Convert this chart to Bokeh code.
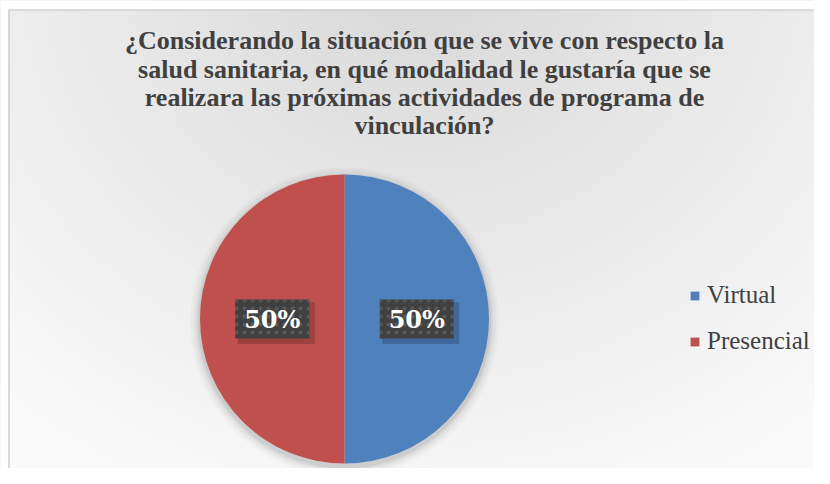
import numpy as np
from bokeh.plotting import figure
from bokeh.models import Range1d, ColumnDataSource, Legend, LegendItem
from bokeh.core.properties import value
from bokeh.embed import file_html
from bokeh.resources import INLINE

# ---- data ----
categories = ["Virtual", "Presencial"]
values = [50, 50]
colors = ["#4F81BD", "#C0504D"]
title_lines = [
    "¿Considerando la situación que se vive con respecto la",
    "salud sanitaria, en qué modalidad le gustaría que se",
    "realizara las próximas actividades de programa de",
    "vinculación?",
]

W, H = 814, 468
p = figure(width=W, height=H, output_backend="svg", toolbar_location=None,
           x_range=Range1d(0, W), y_range=Range1d(0, H), min_border=0)
p.axis.visible = False
p.grid.visible = False
p.outline_line_color = None
p.background_fill_color = "#e6e6e6"
p.border_fill_color = "#e6e6e6"

# background radial gradient
gy, gx = np.mgrid[0:H, 0:W]
d = np.sqrt(((gx - 420) / 620.0) ** 2 + ((gy - (H + 30)) / 560.0) ** 2)
d = np.clip(d, 0, 1)
lum = (0xd8 + (0xfa - 0xd8) * d).astype(np.uint32)
img = np.empty((H, W), dtype=np.uint32)
view = img.view(dtype=np.uint8).reshape((H, W, 4))
view[:, :, 0] = lum
view[:, :, 1] = lum
view[:, :, 2] = lum
view[:, :, 3] = 255
p.image_rgba(image=[img], x=0, y=0, dw=W, dh=H)

# white page margin and chart border (left / top)
p.quad(left=[0, 0], right=[8, W], bottom=[0, H - 9], top=[H, H],
       fill_color="white", line_color=None)
p.line(x=[8.5, 8.5, W], y=[0, H - 9.5, H - 9.5], line_color="#c4c4c4", line_width=1.2)

# pie geometry
cx, cy, R = 344, H - 318.5, 144.5
total = float(sum(values))
cum = np.cumsum([0] + values) / total
starts = [np.pi / 2 - 2 * np.pi * cum[i + 1] for i in range(len(values))]
ends = [np.pi / 2 - 2 * np.pi * cum[i] for i in range(len(values))]
mids = [(s + e) / 2 for s, e in zip(starts, ends)]

# soft shadow
for k, a in [(10, 0.025), (7, 0.035), (4, 0.05), (2, 0.06)]:
    p.circle(x=[cx], y=[cy - 3], radius=R + k, fill_color="#000000",
             fill_alpha=a, line_color=None)

src = ColumnDataSource(dict(start=starts, end=ends, color=colors, cat=categories))
wedges = p.wedge(x=cx, y=cy, radius=R, start_angle="start", end_angle="end",
                 fill_color="color", line_color=None, source=src)

# data labels
lx = [cx + 0.5 * R * np.cos(m) for m in mids]
ly = [cy + 0.5 * R * np.sin(m) for m in mids]
labels = ["%d%%" % round(v / total * 100) for v in values]
lsrc = ColumnDataSource(dict(x=lx, y=ly, t=labels,
                             sx=[x + 4 for x in lx], sy=[y - 4 for y in ly]))
p.rect(x="sx", y="sy", width=77, height=42, fill_color="#000000",
       fill_alpha=0.18, line_color=None, source=lsrc)
p.rect(x="x", y="y", width=74, height=39, fill_color="#404040",
       line_color=None, hatch_pattern="dot", hatch_color="#585858",
       hatch_scale=8, hatch_weight=3, source=lsrc)
p.text(x="x", y="y", text="t", text_color="white", text_font=value("DejaVu Serif"),
       text_font_style="bold", text_font_size="24px", text_align="center",
       text_baseline="middle", source=lsrc)

# title
tsrc = ColumnDataSource(dict(x=[424] * 4, y=[H - 40, H - 69, H - 97, H - 125], t=title_lines))
p.text(x="x", y="y", text="t", text_color="#404040", text_font=value("Liberation Serif"),
       text_font_style="bold", text_font_size="26px", text_align="center",
       text_baseline="middle", source=tsrc)

# legend
legend = Legend(items=[LegendItem(label=categories[i], renderers=[wedges], index=i)
                       for i in range(len(categories))],
                location=(689, 113), orientation="vertical",
                background_fill_alpha=0, border_line_color=None,
                label_text_font="Liberation Serif", label_text_font_size="25px",
                label_text_color="#404040", glyph_width=11, glyph_height=11,
                label_standoff=7, spacing=18, padding=0, margin=0,
                label_height=26)
p.add_layout(legend, "center")

open("out.html", "w").write(file_html(p, INLINE))
